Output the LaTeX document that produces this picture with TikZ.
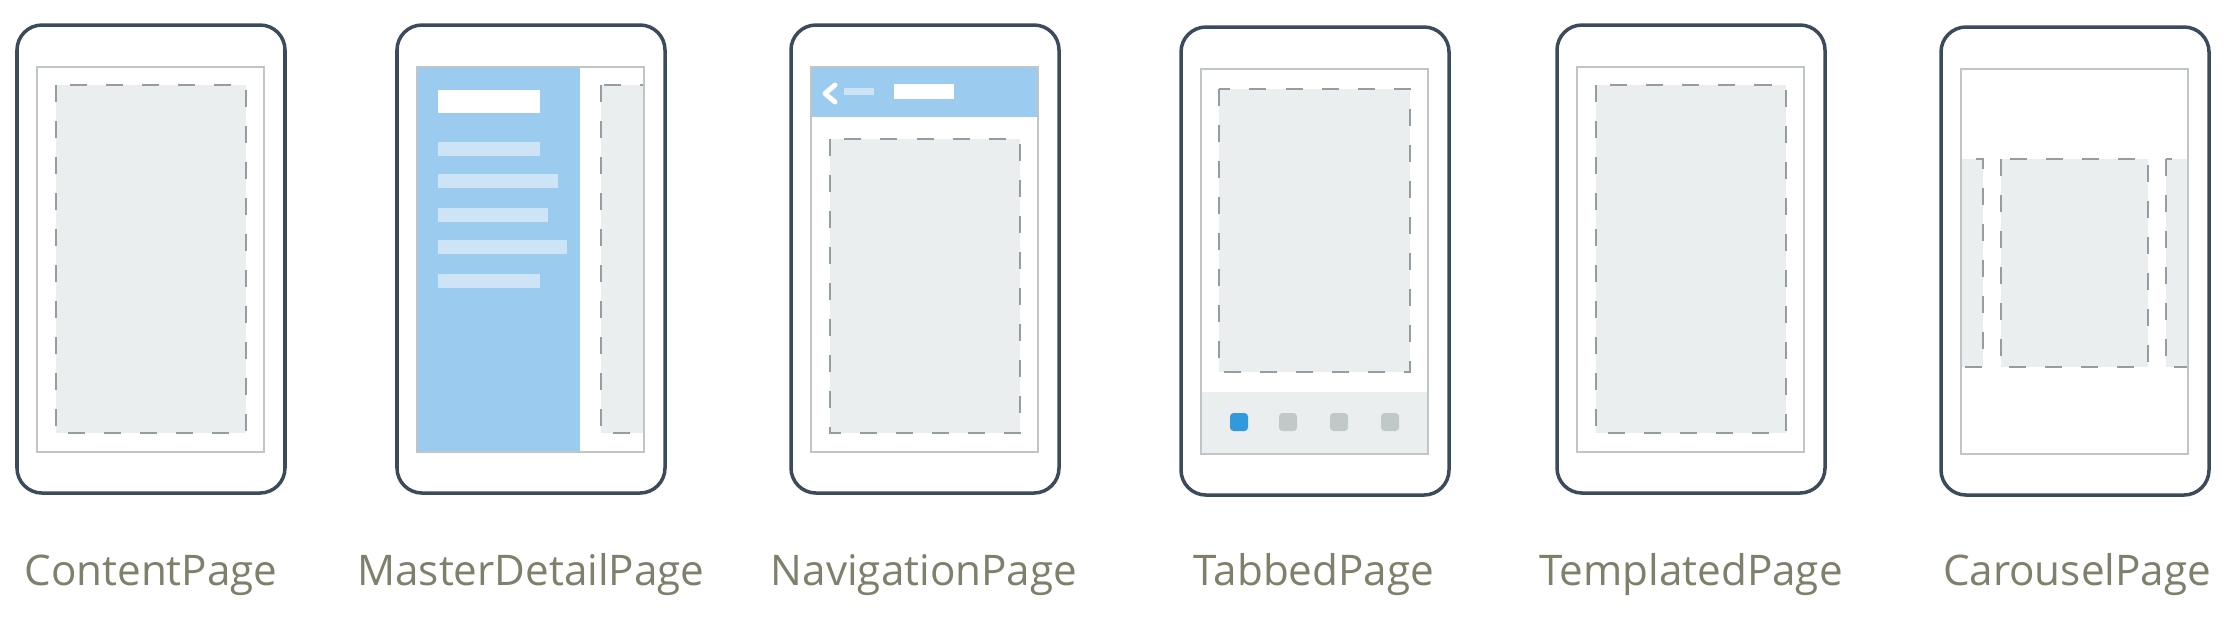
\documentclass[tikz,border=0pt]{standalone}
\usepackage{fontspec}
\setmainfont{Open Sans}
\usepackage{tikz}
\definecolor{framecol}{RGB}{60,75,92}
\definecolor{screencol}{RGB}{192,197,200}
\definecolor{dashcol}{RGB}{150,157,162}
\definecolor{boxfill}{RGB}{235,238,239}
\definecolor{paneblue}{RGB}{155,203,238}
\definecolor{menubar}{RGB}{204,228,246}
\definecolor{tabblue}{RGB}{51,153,221}
\definecolor{tabgray}{RGB}{192,200,200}
\definecolor{labelcol}{RGB}{127,127,108}
\tikzset{
  phone/.style={draw=framecol, line width=1pt, rounded corners=0.25cm},
  screen/.style={draw=screencol, line width=0.7pt},
  dashbox/.style={fill=boxfill, draw=dashcol, line width=0.8pt, dash pattern=on 0.17cm off 0.19cm},
  pagelabel/.style={anchor=base, text=labelcol, inner sep=0pt, font=\fontsize{12}{14}\selectfont},
}

\begin{document}
\begin{tikzpicture}[x=0.01cm, y=-0.01cm]
\path[use as bounding box, fill=white] (0,0) rectangle (2230,620);

% ContentPage
\begin{scope}[shift={(17,25)}]
\draw[dashbox] (39,60) rectangle (229,408);
\draw[screen] (20,42) rectangle (247,427);
\draw[phone] (0,0) rectangle (268,468);
\end{scope}

% MasterDetailPage
\begin{scope}[shift={(397,25)}]
\begin{scope}
\clip (20,42) rectangle (247,427);
\draw[dashbox] (204,60) rectangle (280,408);
\end{scope}
\fill[paneblue] (20,42) rectangle (183,427);
\fill[white] (41,65) rectangle (143,88);
\foreach \y/\w in {117/143, 149/161, 183/151, 215/170, 249/143}
  \fill[menubar] (41,\y) rectangle (\w,\y+14);
\draw[screen] (20,42) rectangle (247,427);
\draw[phone] (0,0) rectangle (268,468);
\end{scope}

% NavigationPage
\begin{scope}[shift={(791,25)}]
\fill[paneblue] (20,42) rectangle (247,92);
\draw[white, line width=1.4pt, line cap=round, line join=round] (44,60) -- (34,68.5) -- (44,77);
\fill[menubar] (53,63) rectangle (83,70);
\fill[white] (103,59) rectangle (163,74);
\draw[dashbox] (39,114) rectangle (229,408);
\draw[screen] (20,42) rectangle (247,427);
\draw[phone] (0,0) rectangle (268,468);
\end{scope}

% TabbedPage
\begin{scope}[shift={(1181,27)}]
\draw[dashbox] (38,62) rectangle (229,345);
\fill[boxfill] (20,365) rectangle (247,427);
\fill[tabblue, rounded corners=1pt] (49,386) rectangle (67,404);
\foreach \x in {107,158,209}
  \fill[tabgray, rounded corners=1pt] (\x-9,386) rectangle (\x+9,404);
\draw[screen] (20,42) rectangle (247,427);
\draw[phone] (0,0) rectangle (268,468);
\end{scope}

% TemplatedPage
\begin{scope}[shift={(1557,25)}]
\draw[dashbox] (39,60) rectangle (229,408);
\draw[screen] (20,42) rectangle (247,427);
\draw[phone] (0,0) rectangle (268,468);
\end{scope}

% CarouselPage
\begin{scope}[shift={(1941,27)}]
\begin{scope}
\clip (20,42) rectangle (247,427);
\draw[dashbox] (-20,132) rectangle (42,340);
\draw[dashbox] (225,132) rectangle (290,340);
\end{scope}
\draw[dashbox] (60,132) rectangle (207,340);
\draw[screen] (20,42) rectangle (247,427);
\draw[phone] (0,0) rectangle (268,468);
\end{scope}

\node[pagelabel] (lblcontent) at (151,585) {ContentPage};
\node[pagelabel] (lblmaster) at (531,585) {MasterDetailPage};
\node[pagelabel] (lblnav) at (924,585) {NavigationPage};
\node[pagelabel] (lbltabbed) at (1314,585) {TabbedPage};
\node[pagelabel] (lbltemplated) at (1691,585) {TemplatedPage};
\node[pagelabel] (lblcarousel) at (2077,585) {CarouselPage};
\end{tikzpicture}
\end{document}
